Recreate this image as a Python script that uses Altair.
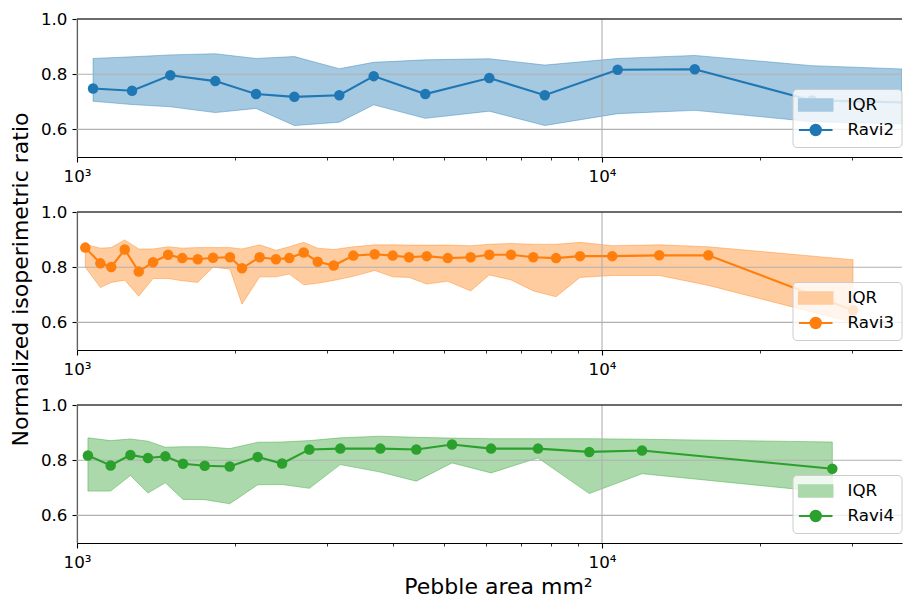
import altair as alt
import pandas as pd

# ---------------- data ----------------
X_TICKS = [1000, 2000, 3000, 4000, 5000, 6000, 7000, 8000, 9000, 10000, 20000, 30000]
X_DOMAIN = [1000, 37275]
Y_DOMAIN = [0.5, 1.0]
Y_TICKS = [0.6, 0.8, 1.0]
X_GRID = [1000, 10000]
Y_GRID = [0.6, 0.8, 1.0]

r2_x = [1073, 1273, 1506, 1834, 2193, 2594, 3159, 3674, 4607, 6100, 7780, 10710, 15020, 25100, 37275]
r2_med = [0.748, 0.740, 0.796, 0.775, 0.728, 0.718, 0.724, 0.793, 0.728, 0.786, 0.724, 0.816, 0.818, 0.705, 0.698]
r2_hi = [0.857, 0.863, 0.870, 0.874, 0.857, 0.864, 0.820, 0.843, 0.852, 0.856, 0.833, 0.857, 0.868, 0.831, 0.819]
r2_lo = [0.702, 0.690, 0.682, 0.661, 0.676, 0.614, 0.626, 0.689, 0.640, 0.666, 0.614, 0.657, 0.669, 0.628, 0.620]

r3_x = [1037, 1108, 1162, 1233, 1311, 1396, 1491, 1587, 1698, 1816, 1956, 2062, 2228, 2393, 2537,
        2703, 2874, 3083, 3360, 3690, 3994, 4290, 4636, 5083, 5622, 6100, 6710, 7398, 8175, 9081,
        10461, 12857, 15940, 30070]
r3_med = [0.871, 0.814, 0.801, 0.864, 0.784, 0.818, 0.845, 0.833, 0.829, 0.834, 0.836, 0.796, 0.836,
          0.829, 0.833, 0.853, 0.820, 0.806, 0.842, 0.847, 0.842, 0.836, 0.840, 0.833, 0.836, 0.845,
          0.845, 0.836, 0.833, 0.840, 0.840, 0.843, 0.843, 0.644]
r3_hi = [0.883, 0.869, 0.871, 0.899, 0.866, 0.866, 0.874, 0.869, 0.871, 0.871, 0.871, 0.866, 0.881,
         0.861, 0.874, 0.890, 0.869, 0.864, 0.874, 0.881, 0.881, 0.880, 0.880, 0.880, 0.878, 0.883,
         0.886, 0.883, 0.883, 0.890, 0.878, 0.881, 0.874, 0.827]
r3_lo = [0.800, 0.726, 0.745, 0.753, 0.695, 0.759, 0.759, 0.751, 0.745, 0.800, 0.793, 0.666, 0.765,
         0.765, 0.775, 0.736, 0.742, 0.752, 0.767, 0.788, 0.765, 0.763, 0.739, 0.749, 0.714, 0.772,
         0.754, 0.714, 0.693, 0.763, 0.770, 0.770, 0.734, 0.600]

r4_x = [1049, 1159, 1264, 1365, 1473, 1592, 1751, 1954, 2209, 2458, 2771, 3173, 3782, 4429, 5180,
        6147, 7552, 9458, 11920, 27460]
r4_med = [0.817, 0.781, 0.819, 0.808, 0.814, 0.787, 0.780, 0.777, 0.812, 0.788, 0.839, 0.842, 0.842,
          0.839, 0.857, 0.842, 0.842, 0.830, 0.835, 0.769]
r4_hi = [0.881, 0.871, 0.877, 0.869, 0.847, 0.849, 0.849, 0.842, 0.865, 0.866, 0.871, 0.881, 0.887,
         0.883, 0.880, 0.878, 0.878, 0.878, 0.876, 0.866]
r4_lo = [0.688, 0.688, 0.745, 0.681, 0.718, 0.658, 0.657, 0.642, 0.711, 0.712, 0.698, 0.784, 0.757,
         0.724, 0.790, 0.754, 0.808, 0.679, 0.751, 0.682]

SERIES = ["Ravi2", "Ravi3", "Ravi4"]
COLORS = ["#1f77b4", "#ff7f0e", "#2ca02c"]
BAND_COLORS = ["#a5c9e1", "#ffcc9f", "#abd9ab"]
LEGEND_LABEL_IQR = "IQR"
X_TITLE = "Pebble area mm\u00b2"
Y_TITLE = "Normalized isoperimetric ratio"

# ---------------- styling ----------------
FONT = "DejaVu Sans"
W, H = 825, 138
RECT_PATH = "M-1.2,-0.73L3.0,-0.73L3.0,0.73L-1.2,0.73Z"
LINE_PATH = "M-1.2,0L3.0,0M1.55,0A0.65,0.65,0,1,1,0.25,0A0.65,0.65,0,1,1,1.55,0Z"


def panel(xs, med, lo, hi, name, color, band_color, show_x_title, show_y_title):
    df = pd.DataFrame({"x": xs, "med": med, "lo": lo, "hi": hi})
    xscale = alt.Scale(type="log", domain=X_DOMAIN, nice=False)
    yscale = alt.Scale(domain=Y_DOMAIN, nice=False, zero=False)

    major = "datum.value == 1000 || datum.value == 10000"
    xaxis_kw = dict(
        values=X_TICKS,
        labelExpr="datum.value == 1000 ? '10\u00b3' : (datum.value == 10000 ? '10\u2074' : '')",
        tickSize={"condition": {"test": major, "value": 5}, "value": 3},
        tickWidth={"condition": {"test": major, "value": 1.1}, "value": 0.8},
        tickColor="black", domainColor="black", domainWidth=1.1,
        labelFont=FONT, labelFontSize=16.7, labelColor="black", labelPadding=6,
        labelFlush=False, labelOverlap=False, grid=False,
    )
    if show_x_title:
        xaxis = alt.Axis(title=X_TITLE, titleFont=FONT, titleFontSize=22, titleFontWeight="normal",
                         titleColor="black", titleX=421, titleY=50, titleBaseline="alphabetic",
                         titleAlign="center", **xaxis_kw)
    else:
        xaxis = alt.Axis(title=None, **xaxis_kw)

    yaxis_kw = dict(
        values=Y_TICKS, format=".1f", tickSize=5, tickWidth=1.1, tickColor="black",
        domainColor="black", domainWidth=1.1, labelFont=FONT, labelFontSize=16.7,
        labelColor="black", labelPadding=5, grid=False,
    )
    if show_y_title:
        yaxis = alt.Axis(title=Y_TITLE, titleFont=FONT, titleFontSize=22, titleFontWeight="normal",
                         titleColor="black", titleX=-50, titleY=67, titleBaseline="alphabetic",
                         titleAlign="center", **yaxis_kw)
    else:
        yaxis = alt.Axis(title=None, **yaxis_kw)

    band = alt.Chart(df).mark_area(
        color=color, fillOpacity=0.4, stroke=color, strokeOpacity=0.4, strokeWidth=1, clip=True
    ).encode(
        x=alt.X("x:Q", scale=xscale, axis=xaxis),
        y=alt.Y("lo:Q", scale=yscale, axis=yaxis),
        y2="hi:Q",
    )
    hgrid = alt.Chart(pd.DataFrame({"g": Y_GRID})).mark_rule(color="#b0b0b0", strokeWidth=1.1).encode(
        y="g:Q")
    vgrid = alt.Chart(pd.DataFrame({"g": X_GRID})).mark_rule(color="#b0b0b0", strokeWidth=1.1).encode(
        x="g:Q")
    line = alt.Chart(df).mark_line(color=color, strokeWidth=2.1, clip=True).encode(x="x:Q", y="med:Q")
    pts = alt.Chart(df).transform_filter(alt.datum.x < X_DOMAIN[1]).mark_point(
        filled=True, size=110, opacity=1, color=color, clip=True).encode(x="x:Q", y="med:Q")
    top = alt.Chart(pd.DataFrame({"a": [X_DOMAIN[0]], "b": [X_DOMAIN[1]], "y": [Y_DOMAIN[1]]})).mark_rule(
        color="black", strokeWidth=1.1).encode(x="a:Q", x2="b:Q", y="y:Q")

    labels = [LEGEND_LABEL_IQR, name]
    leg = alt.Legend(
        title=None, orient="none", legendX=715.5, legendY=70,
        labelFont=FONT, labelFontSize=16.7, labelColor="black", labelLimit=200,
        fillColor="rgba(255,255,255,0.8)", strokeColor="#cccccc", cornerRadius=4, padding=7,
        symbolSize=256, symbolStrokeWidth=2, symbolOpacity=1, rowPadding=5, labelOffset=30,
    )
    dummy = alt.Chart(pd.DataFrame({"lab": labels})).mark_point(filled=True, opacity=0).encode(
        fill=alt.Fill("lab:N", scale=alt.Scale(domain=labels, range=[band_color, color]), legend=leg),
        stroke=alt.Stroke("lab:N", scale=alt.Scale(domain=labels, range=[band_color, color]), legend=leg),
        shape=alt.Shape("lab:N", scale=alt.Scale(domain=labels, range=[RECT_PATH, LINE_PATH]), legend=leg),
    )
    return alt.layer(band, hgrid, vgrid, line, pts, top, dummy).properties(width=W, height=H)


p1 = panel(r2_x, r2_med, r2_lo, r2_hi, SERIES[0], COLORS[0], BAND_COLORS[0], False, False)
p2 = panel(r3_x, r3_med, r3_lo, r3_hi, SERIES[1], COLORS[1], BAND_COLORS[1], False, True)
p3 = panel(r4_x, r4_med, r4_lo, r4_hi, SERIES[2], COLORS[2], BAND_COLORS[2], True, False)

chart = alt.vconcat(p1, p2, p3, spacing=55, bounds="flush").resolve_scale(
    x="independent", y="independent", fill="independent", stroke="independent", shape="independent"
).resolve_legend(fill="independent", stroke="independent", shape="independent").configure_view(
    stroke=None
).properties(padding={"left": 0, "top": 3, "right": 0, "bottom": 0})

chart.save("out.html", embed_options={"renderer": "svg", "actions": False})
